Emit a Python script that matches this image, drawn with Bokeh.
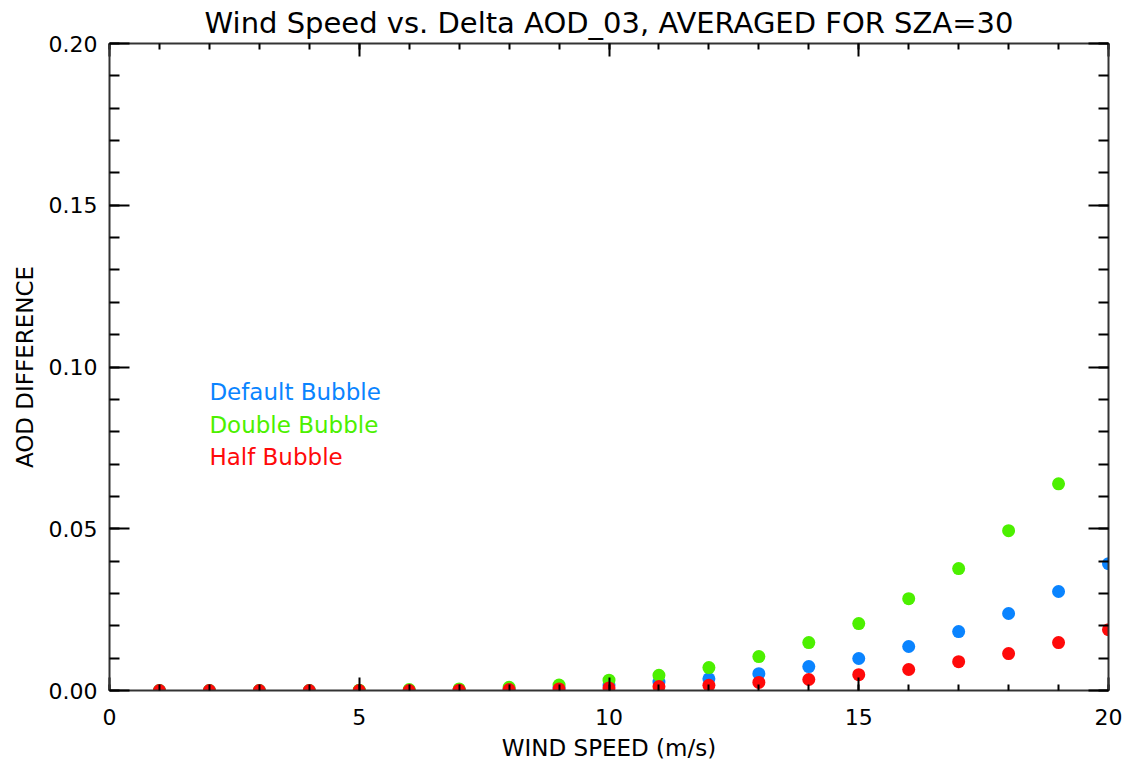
from bokeh.plotting import figure
from bokeh.models import Range1d, LinearAxis, FixedTicker, CustomJSTickFormatter
from bokeh.core.properties import value
from bokeh.embed import file_html
from bokeh.resources import INLINE

# ---- data ----
wind_default = [1, 2, 3, 4, 5, 6, 7, 8, 9, 10, 11, 12, 13, 14, 15, 16, 17, 18, 19, 20]
aod_default = [0.0, 0.0, 0.0, 0.0, 0.0, 0.0, 0.0001, 0.0005, 0.0009, 0.0016, 0.0026,
               0.0036, 0.0052, 0.0074, 0.0099, 0.0136, 0.0182, 0.0238, 0.0306, 0.0392]
wind_double = [1, 2, 3, 4, 5, 6, 7, 8, 9, 10, 11, 12, 13, 14, 15, 16, 17, 18, 19]
aod_double = [0.0, 0.0, 0.0, 0.0, 0.0001, 0.0003, 0.0005, 0.0010, 0.0017, 0.0032, 0.0047,
              0.0071, 0.0105, 0.0148, 0.0207, 0.0284, 0.0377, 0.0494, 0.0639]
wind_half = [1, 2, 3, 4, 5, 6, 7, 8, 9, 10, 11, 12, 13, 14, 15, 16, 17, 18, 19, 20]
aod_half = [0.0, 0.0, 0.0, 0.0, 0.0, 0.0, 0.0001, 0.0003, 0.0005, 0.0008, 0.0012,
            0.0016, 0.0025, 0.0034, 0.0049, 0.0065, 0.0089, 0.0114, 0.0148, 0.0188]

series_names = ["Default Bubble", "Double Bubble", "Half Bubble"]
series_colors = ["#0A84FF", "#4CF000", "#FF0A0A"]

x_ticks = [0, 5, 10, 15, 20]
x_minor = list(range(0, 21))
y_ticks = [0.0, 0.05, 0.10, 0.15, 0.20]
y_minor = [i / 100 for i in range(0, 21)]

# legend text anchor (data coordinates, vertical centre of each line)
LEG_X = [2, 2, 2]
LEG_Y = [0.0923, 0.0821, 0.0722]

FONT = "DejaVu Sans"
AX = "#333333"

p = figure(width=1122, height=763, output_backend="svg", toolbar_location=None,
           x_range=Range1d(0, 20), y_range=Range1d(0, 0.2),
           title="Wind Speed vs. Delta AOD_03, AVERAGED FOR SZA=30",
           min_border_left=109, min_border_right=14, min_border_top=43, min_border_bottom=72)
p.background_fill_color = "white"
p.border_fill_color = "white"
p.outline_line_color = None
p.grid.visible = False

p.title.align = "center"
p.title.text_font = FONT
p.title.text_font_style = "normal"
p.title.text_font_size = "29px"
p.title.text_color = "black"
p.title.offset = 0
p.title.standoff = 7

def style_axis(ax, ticks, minor, major_len, minor_len, show_labels):
    ax.ticker = FixedTicker(ticks=ticks, minor_ticks=minor)
    ax.axis_line_color = AX
    ax.axis_line_width = 2
    ax.major_tick_line_color = "black"
    ax.major_tick_line_width = 2
    ax.minor_tick_line_color = "black"
    ax.minor_tick_line_width = 2
    ax.major_tick_in = major_len
    ax.major_tick_out = 0
    ax.minor_tick_in = minor_len
    ax.minor_tick_out = 0
    ax.major_label_text_font = FONT
    ax.major_label_text_color = "black"
    ax.axis_label_text_font = FONT
    ax.axis_label_text_font_style = "normal"
    ax.axis_label_text_color = "black"
    ax.major_label_text_font_size = "22px"
    ax.axis_label_text_font_size = "23px"
    if not show_labels:
        ax.formatter = CustomJSTickFormatter(code="return '';")
        ax.major_label_standoff = 0

xb = p.xaxis[0]
style_axis(xb, x_ticks, x_minor, 13, 6, True)
xb.axis_label = "WIND SPEED (m/s)"
xb.major_label_standoff = 18
xb.axis_label_standoff = 7
xb.formatter = CustomJSTickFormatter(code="return tick.toFixed(0);")

yl = p.yaxis[0]
style_axis(yl, y_ticks, y_minor, 20, 10, True)
yl.axis_label = "AOD DIFFERENCE"
yl.major_label_standoff = 12
yl.axis_label_standoff = 8
yl.formatter = CustomJSTickFormatter(code="return tick.toFixed(2);")

xt = LinearAxis()
style_axis(xt, x_ticks, x_minor, 13, 6, False)
p.add_layout(xt, "above")
yr = LinearAxis()
style_axis(yr, y_ticks, y_minor, 20, 10, False)
p.add_layout(yr, "right")

p.scatter(wind_default, aod_default, size=13, fill_color=series_colors[0], line_color=None)
p.scatter(wind_double, aod_double, size=13, fill_color=series_colors[1], line_color=None)
p.scatter(wind_half, aod_half, size=13, fill_color=series_colors[2], line_color=None)

p.text(x=LEG_X, y=LEG_Y, text=series_names, text_color=series_colors,
       text_font=value(FONT), text_font_size="23px", text_baseline="middle",
       text_align="left")

open("out.html", "w").write(file_html(p, INLINE))
